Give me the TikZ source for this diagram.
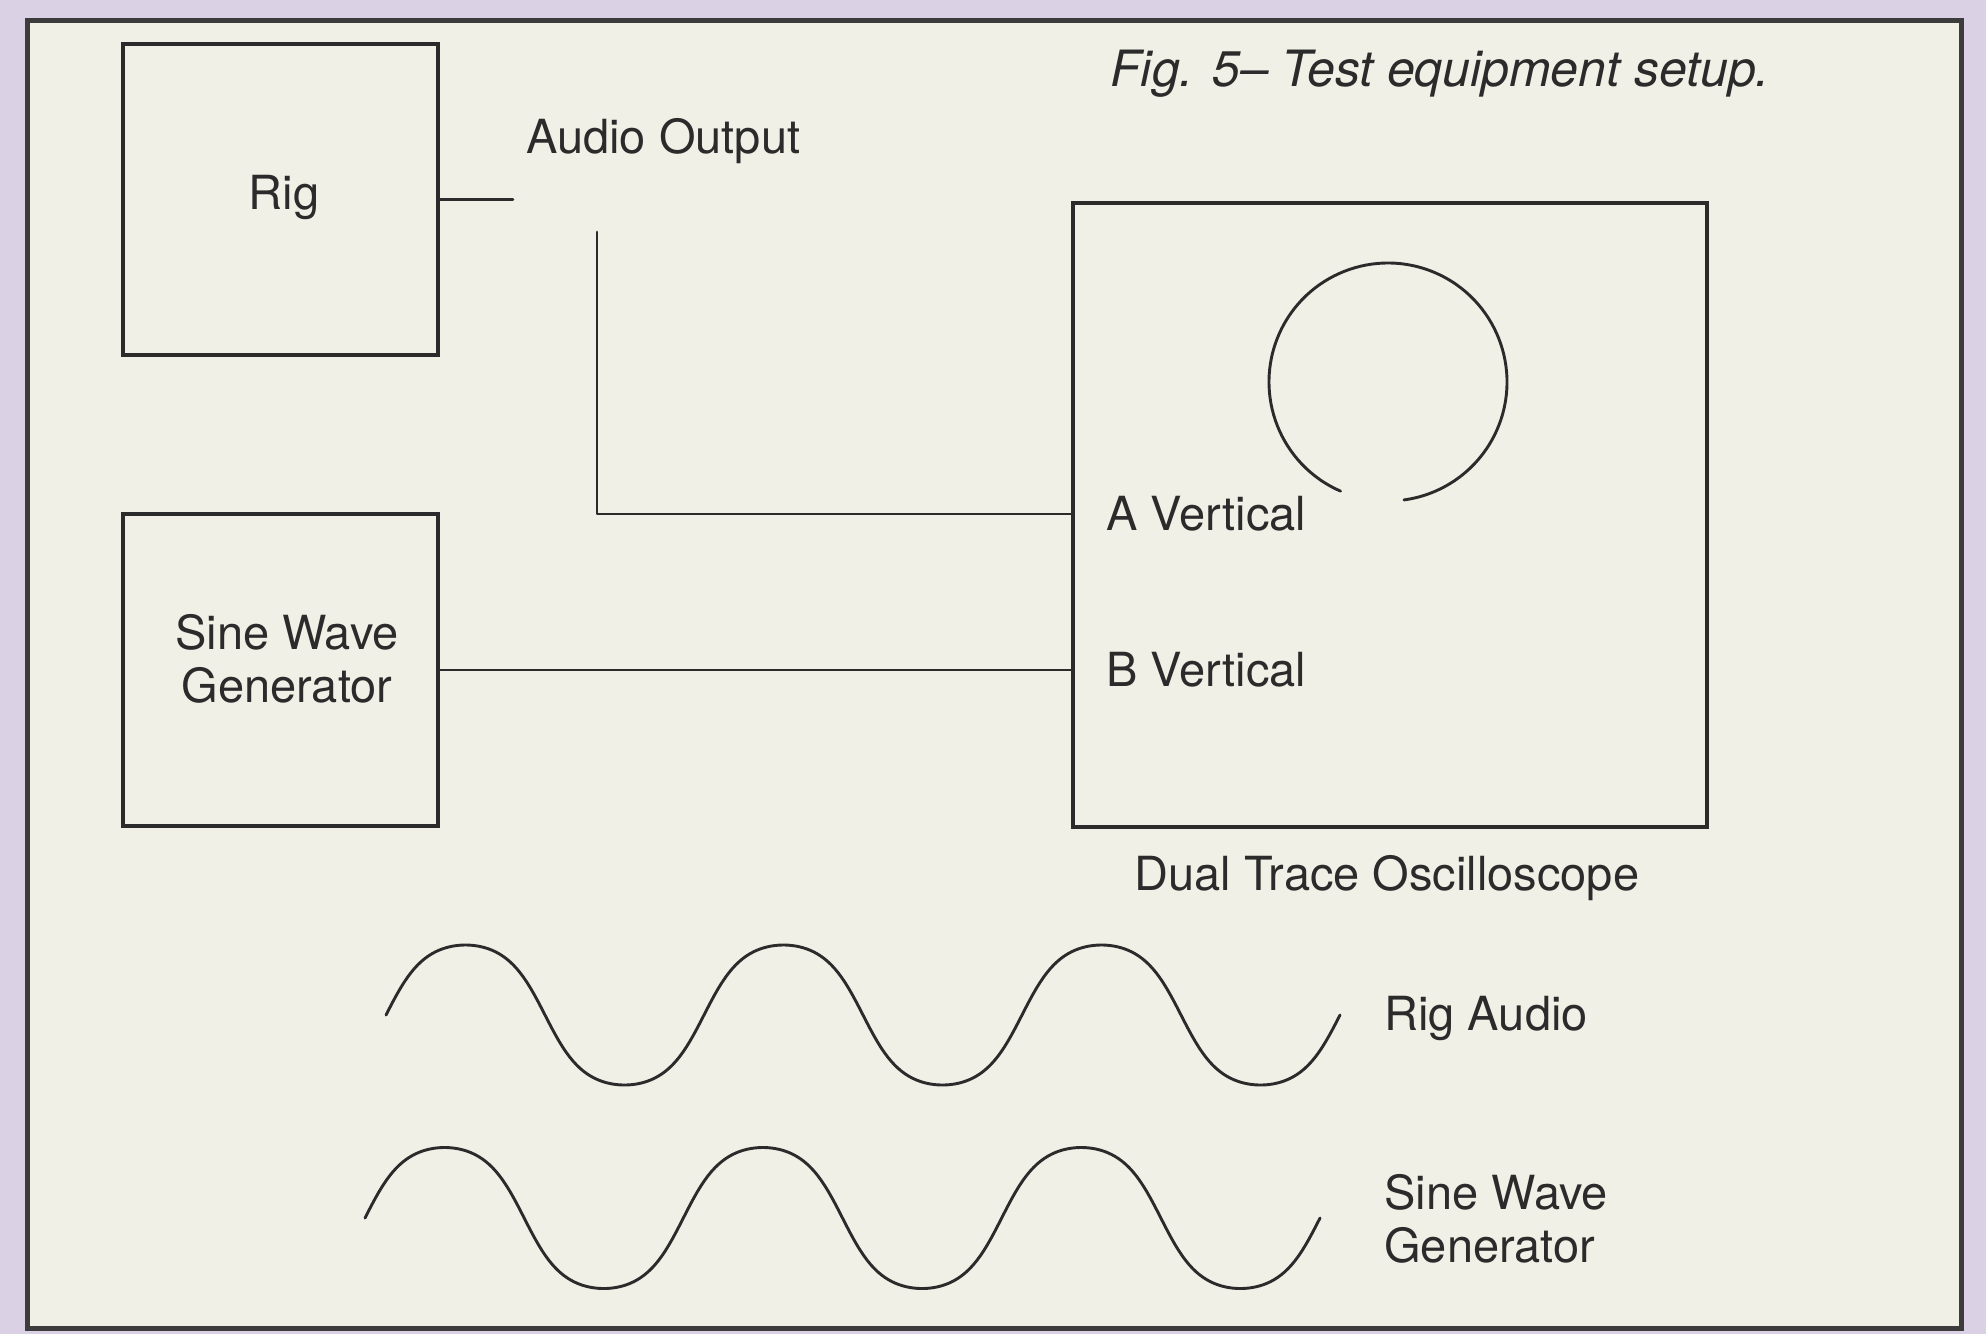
\documentclass[tikz,border=0pt]{standalone}
\usepackage{fontspec}
\setmainfont{TeX Gyre Heros}
\definecolor{lav}{HTML}{DAD2E4}
\definecolor{paper}{HTML}{F0F0E6}
\definecolor{ink}{HTML}{2B2B2B}
\definecolor{framec}{HTML}{3C3C3C}
\begin{document}
\begin{tikzpicture}[x=0.5pt,y=-0.5pt,
  blk/.style={draw=ink, line width=1.6pt, inner sep=0pt},
  wire/.style={draw=ink, line width=1.45pt, line cap=round, line join=round},
  lbl/.style={font=\fontsize{23.5pt}{26.5pt}\selectfont, text=ink, inner sep=0pt},
  figcap/.style={font=\fontsize{25pt}{28pt}\selectfont\itshape, text=ink, inner sep=0pt}]
% background and frame
\fill[lav] (0,0) rectangle (1986,1334);
\useasboundingbox (0,0) rectangle (1986,1334);
\draw[framec, line width=2.5pt, fill=paper] (27,20) rectangle (1961,1328);
% caption
\node[figcap, anchor=base west] (caption) at (1110,86) {Fig. 5– Test equipment setup.};
% blocks
\node[blk, minimum width=157.5pt, minimum height=155.5pt] (rig) at (280.5,199.5) {};
\node[lbl, anchor=base] (rigtxt) at (284,209) {Rig};
\node[blk, minimum width=157.5pt, minimum height=156pt] (swg) at (280.5,670) {};
\node[lbl, align=center] (swgtxt) at (287,658.5) {Sine Wave\\Generator};
\node[blk, minimum width=317pt, minimum height=312pt] (scope) at (1390,515) {};
% labels
\node[lbl, anchor=base west] (aout) at (526,153) {Audio Output};
\node[lbl, anchor=base west] (avert) at (1106,530) {A Vertical};
\node[lbl, anchor=base west] (bvert) at (1106,686) {B Vertical};
\node[lbl, anchor=base west] (dtos) at (1134,890) {Dual Trace Oscilloscope};
\node[lbl, anchor=base west] (rigaud) at (1384,1030) {Rig Audio};
\node[lbl, align=left, anchor=west] (swglbl) at (1384,1218.5) {Sine Wave\\Generator};
% connectors
\coordinate (aoend) at (513,199.5);
\draw[wire] (rig.east) -- (aoend);
\coordinate (aotop) at (597,232);
\coordinate (aobend) at (597,514);
\draw[wire] (aotop) -- (aobend) -- (aobend -| scope.west);
\draw[wire] (swg.east) -- (swg.east -| scope.west);
% CRT trace
\coordinate (crt) at (1388,382);
\draw[wire] (crt) ++(113.5:119) arc[start angle=113.5, end angle=442.3, radius=119];
% waveforms
\draw[wire] plot[domain=0:1080, samples=271]
  ({386+0.88333*\x}, {1015-70*1.41421*sin(\x)/sqrt(sin(\x)^2+1)});
\draw[wire] plot[domain=0:1080, samples=271]
  ({365+0.88426*\x}, {1218-70.5*1.41421*sin(\x)/sqrt(sin(\x)^2+1)});
\end{tikzpicture}
\end{document}
